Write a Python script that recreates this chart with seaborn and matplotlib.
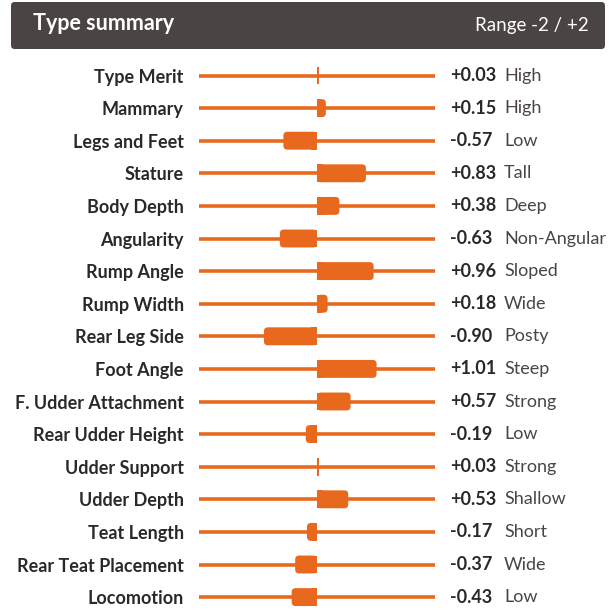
import matplotlib
matplotlib.use("Agg")
import matplotlib.pyplot as plt
from matplotlib.patches import FancyBboxPatch, Rectangle
import seaborn as sns
import pandas as pd

traits = ["Type Merit", "Mammary", "Legs and Feet", "Stature", "Body Depth",
          "Angularity", "Rump Angle", "Rump Width", "Rear Leg Side", "Foot Angle",
          "F. Udder Attachment", "Rear Udder Height", "Udder Support", "Udder Depth",
          "Teat Length", "Rear Teat Placement", "Locomotion"]
values = [0.03, 0.15, -0.57, 0.83, 0.38, -0.63, 0.96, 0.18, -0.90, 1.01,
          0.57, -0.19, 0.03, 0.53, -0.17, -0.37, -0.43]
descriptors = ["High", "High", "Low", "Tall", "Deep", "Non-Angular", "Sloped", "Wide",
               "Posty", "Steep", "Strong", "Low", "Strong", "Shallow", "Short", "Wide", "Low"]
title = "Type summary"
range_text = "Range -2 / +2"

ORANGE = "#E8691E"
DARK = "#2B2928"
HEADER = "#4A4542"

sns.set_theme(style="white")
plt.rcParams["font.family"] = ["Lato", "DejaVu Sans"]

W, H = 613, 612
fig = plt.figure(figsize=(W / 100, H / 100), dpi=100)

# axes geometry in pixels
x0, x1 = 199, 435
row0, spacing = 75.5, 32.6
top_px = row0 - spacing / 2
ax = fig.add_axes([x0 / W, 0, (x1 - x0) / W, (H - top_px) / H])
n = len(traits)
ybottom = -0.5 + (H - top_px) / spacing

df = pd.DataFrame({"trait": traits, "value": values})

# baseline track
ax.hlines(range(n), -2, 2, color=ORANGE, lw=2.6, capstyle="butt", zorder=1)

sns.barplot(data=df, x="value", y="trait", orient="h", color=ORANGE,
            width=0.55, ax=ax, saturation=1, zorder=2)

# replace bars with rounded-end versions
ux = 1 / 59.0            # data units per px in x
uy = 1 / spacing          # data units per px in y
aspect = uy / ux
for p in list(ax.patches):
    x, y = p.get_x(), p.get_y()
    w, h = p.get_width(), p.get_height()
    p.set_visible(False)
    left = min(x, x + w)
    aw = abs(w)
    r = min(4 * ux, aw / 2.2)
    if aw > 4 * ux:
        ax.add_patch(FancyBboxPatch((left, y), aw, h,
                                    boxstyle=f"round,pad=0,rounding_size={r}",
                                    mutation_aspect=aspect, fc=ORANGE, ec="none", zorder=3))
        sq = min(aw / 2, 6 * ux)
        sx = 0 if w >= 0 else -sq
        ax.add_patch(Rectangle((sx, y), sq, h, fc=ORANGE, ec="none", zorder=3))
    else:
        ax.add_patch(Rectangle((left, y), max(aw, 1.2 * ux), h, fc=ORANGE, ec="none", zorder=3))

ax.set_xlim(-2, 2)
ax.set_ylim(ybottom, -0.5)
ax.set_xlabel("")
ax.set_ylabel("")
ax.set_xticks([])
ax.tick_params(axis="y", length=0, pad=11)
for lab in ax.get_yticklabels():
    lab.set_fontweight("bold")
    lab.set_fontsize(13)
    lab.set_color(DARK)
sns.despine(ax=ax, left=True, bottom=True)
ax.set_facecolor("none")

tr = ax.get_yaxis_transform()
for i, (v, d) in enumerate(zip(values, descriptors)):
    ax.text(1 + (450 - x1) / (x1 - x0), i, f"{v:+.2f}", transform=tr, ha="left", va="center",
            fontsize=13, fontweight="bold", color=DARK, clip_on=False)
    ax.text(1 + (504 - x1) / (x1 - x0), i, d, transform=tr, ha="left", va="center",
            fontsize=13, color="#4A4542", clip_on=False)

# header box
hdr = FancyBboxPatch((11 / W, 1 - 49 / H), (605 - 11) / W, 47 / H,
                     boxstyle="round,pad=0,rounding_size=0.006",
                     transform=fig.transFigure, fc=HEADER, ec="none")
fig.patches.append(hdr)
fig.text(33 / W, 1 - 23 / H, title, ha="left", va="center", fontsize=15.5,
         fontweight="bold", color="white")
fig.text(589 / W, 1 - 26 / H, range_text, ha="right", va="center", fontsize=13.5,
         color="white")

fig.savefig("out.png", dpi=100)
